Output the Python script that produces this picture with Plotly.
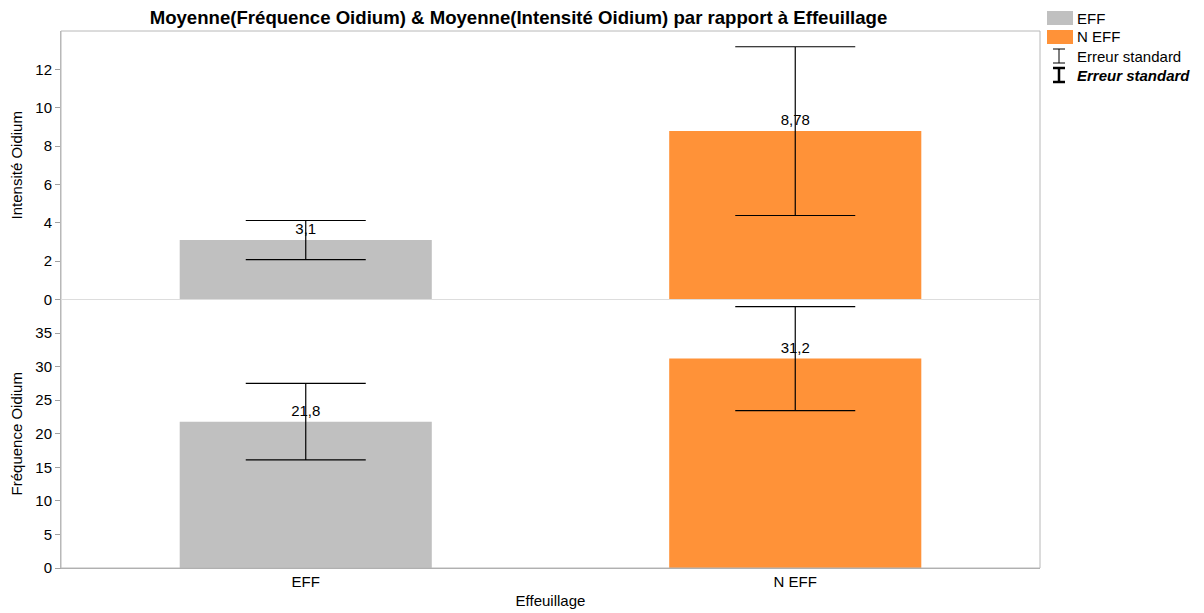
import plotly.graph_objects as go
from plotly.subplots import make_subplots

categories = ["EFF", "N EFF"]
intensite = [3.1, 8.78]
intensite_se = [1.02, 4.4]
frequence = [21.8, 31.2]
frequence_se = [5.7, 7.75]
intensite_ticks = [0, 2, 4, 6, 8, 10, 12]
frequence_ticks = [0, 5, 10, 15, 20, 25, 30, 35]
colors = ["#C0C0C0", "#FF9238"]

OFF = 8  # page body margin in browser
W, H = 1204 - OFF, 613 - OFF
L, R, T, B = 61 - OFF, 164, 31 - OFF, 45
PW, PH = W - L - R, H - T - B

def px(x):
    return (x - OFF - L) / PW

def py(y):
    return 1 - (y - OFF - T) / PH

FONT = "Liberation Sans, Arial, Helvetica, sans-serif"
FS = 15

fig = make_subplots(rows=2, cols=1, shared_xaxes=True, vertical_spacing=0)

for row, vals, ses in [(1, intensite, intensite_se), (2, frequence, frequence_se)]:
    fig.add_trace(go.Bar(
        x=categories, y=vals,
        marker=dict(color=colors, line=dict(width=0)),
        error_y=dict(type="data", array=ses, visible=True, color="black",
                     thickness=1.2, width=60),
        text=vals, texttemplate="%{y}", textposition="outside",
        textfont=dict(size=FS, color="black", family=FONT),
        cliponaxis=False, showlegend=False, width=0.515,
    ), row=row, col=1)

fig.update_layout(
    width=W, height=H,
    margin=dict(l=L, r=R, t=T, b=B, autoexpand=False),
    paper_bgcolor="white", plot_bgcolor="white",
    separators=", ",
    font=dict(family=FONT, size=FS, color="black"),
    title=dict(text="<b>Moyenne(Fréquence Oidium) & Moyenne(Intensité Oidium) par rapport à Effeuillage</b>",
               x=px(518.5), xref="paper", xanchor="center",
               y=1 - (17 - OFF) / H, yanchor="middle",
               font=dict(size=18.6, family=FONT, color="black")),
    bargap=0.485,
)

axis_common = dict(showgrid=False, zeroline=False, showline=True, linecolor="#B8B8B8",
                   ticks="outside", ticklen=5, tickcolor="#A0A0A0", automargin=False,
                   tickfont=dict(size=FS, family=FONT, color="black"))

fig.update_yaxes(range=[0, 14], tickvals=intensite_ticks,
                 title=dict(text="Intensité Oidium", font=dict(size=FS), standoff=10),
                 row=1, col=1, **axis_common)
fig.update_yaxes(range=[0, 40], tickvals=frequence_ticks,
                 title=dict(text="Fréquence Oidium", font=dict(size=FS), standoff=10),
                 row=2, col=1, **axis_common)
fig.update_xaxes(range=[-0.5, 1.5], showgrid=False, zeroline=False, showline=True, linecolor="#A8A8A8",
                 ticks="", automargin=False, tickfont=dict(size=FS, family=FONT, color="black"), row=2, col=1)
fig.update_xaxes(range=[-0.5, 1.5], showgrid=False, zeroline=False, showline=False, automargin=False, row=1, col=1)
fig.update_xaxes(title=dict(text="Effeuillage", font=dict(size=FS), standoff=6), row=2, col=1)

shapes = [
    dict(type="rect", xref="paper", yref="paper", x0=0, x1=1, y0=0, y1=1,
         line=dict(color="#B8B8B8", width=1), fillcolor="rgba(0,0,0,0)", layer="above"),
    dict(type="line", xref="paper", yref="paper", x0=0, x1=1, y0=0.5, y1=0.5,
         line=dict(color="#DDDDDD", width=1), layer="above"),
]

# Legend (manual)
shapes.append(dict(type="rect", xref="paper", yref="paper", x0=px(1047), x1=px(1073), y0=py(25), y1=py(11),
                   fillcolor=colors[0], line=dict(width=0)))
shapes.append(dict(type="rect", xref="paper", yref="paper", x0=px(1047), x1=px(1073), y0=py(44), y1=py(30),
                   fillcolor=colors[1], line=dict(width=0)))
for (cy, w) in [(56, 1), (75, 2.5)]:
    x0, x1, xc = px(1053), px(1065), px(1059)
    shapes.append(dict(type="line", xref="paper", yref="paper", x0=x0, x1=x1, y0=py(cy - 7), y1=py(cy - 7),
                       line=dict(color="black", width=w)))
    shapes.append(dict(type="line", xref="paper", yref="paper", x0=x0, x1=x1, y0=py(cy + 7), y1=py(cy + 7),
                       line=dict(color="black", width=w)))
    shapes.append(dict(type="line", xref="paper", yref="paper", x0=xc, x1=xc, y0=py(cy - 7), y1=py(cy + 7),
                       line=dict(color="black", width=w)))

legend_items = [("EFF", 18), ("N EFF", 37), ("Erreur standard", 56),
                ("<b><i>Erreur standard</i></b>", 75)]
annotations = []
for txt, cy in legend_items:
    annotations.append(dict(text=txt, xref="paper", yref="paper", x=px(1075), y=py(cy),
                            xanchor="left", yanchor="middle", showarrow=False,
                            font=dict(size=FS, family=FONT, color="black")))

fig.update_layout(shapes=shapes, annotations=annotations)

fig.write_html("out.html")
